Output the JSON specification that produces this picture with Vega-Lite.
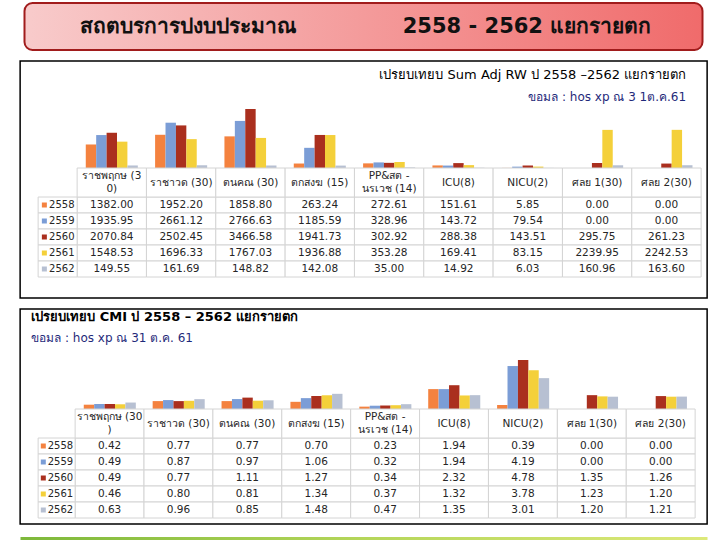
{
"$schema": "https://vega.github.io/schema/vega-lite/v6.json",
"background": "white",
"padding": {"left": 19, "top": 2, "right": 0, "bottom": 0},
"spacing": 9,
"center": true,
"config": {"view": {"stroke": null}, "font": "DejaVu Sans", "text": {"font": "DejaVu Sans"}},
"datasets": {
"rw": [
{"cat":"ราชพฤกษ (30)","year":"2558","v":1382.00},{"cat":"ราชาวด (30)","year":"2558","v":1952.20},{"cat":"ตนคณ (30)","year":"2558","v":1858.80},{"cat":"ตกสงฆ (15)","year":"2558","v":263.24},{"cat":"PP&สต-นรเวช (14)","year":"2558","v":272.61},{"cat":"ICU(8)","year":"2558","v":151.61},{"cat":"NICU(2)","year":"2558","v":5.85},{"cat":"ศลย 1(30)","year":"2558","v":0.00},{"cat":"ศลย 2(30)","year":"2558","v":0.00},
{"cat":"ราชพฤกษ (30)","year":"2559","v":1935.95},{"cat":"ราชาวด (30)","year":"2559","v":2661.12},{"cat":"ตนคณ (30)","year":"2559","v":2766.63},{"cat":"ตกสงฆ (15)","year":"2559","v":1185.59},{"cat":"PP&สต-นรเวช (14)","year":"2559","v":328.96},{"cat":"ICU(8)","year":"2559","v":143.72},{"cat":"NICU(2)","year":"2559","v":79.54},{"cat":"ศลย 1(30)","year":"2559","v":0.00},{"cat":"ศลย 2(30)","year":"2559","v":0.00},
{"cat":"ราชพฤกษ (30)","year":"2560","v":2070.84},{"cat":"ราชาวด (30)","year":"2560","v":2502.45},{"cat":"ตนคณ (30)","year":"2560","v":3466.58},{"cat":"ตกสงฆ (15)","year":"2560","v":1941.73},{"cat":"PP&สต-นรเวช (14)","year":"2560","v":302.92},{"cat":"ICU(8)","year":"2560","v":288.38},{"cat":"NICU(2)","year":"2560","v":143.51},{"cat":"ศลย 1(30)","year":"2560","v":295.75},{"cat":"ศลย 2(30)","year":"2560","v":261.23},
{"cat":"ราชพฤกษ (30)","year":"2561","v":1548.53},{"cat":"ราชาวด (30)","year":"2561","v":1696.33},{"cat":"ตนคณ (30)","year":"2561","v":1767.03},{"cat":"ตกสงฆ (15)","year":"2561","v":1936.88},{"cat":"PP&สต-นรเวช (14)","year":"2561","v":353.28},{"cat":"ICU(8)","year":"2561","v":169.41},{"cat":"NICU(2)","year":"2561","v":83.15},{"cat":"ศลย 1(30)","year":"2561","v":2239.95},{"cat":"ศลย 2(30)","year":"2561","v":2242.53},
{"cat":"ราชพฤกษ (30)","year":"2562","v":149.55},{"cat":"ราชาวด (30)","year":"2562","v":161.69},{"cat":"ตนคณ (30)","year":"2562","v":148.82},{"cat":"ตกสงฆ (15)","year":"2562","v":142.08},{"cat":"PP&สต-นรเวช (14)","year":"2562","v":35.00},{"cat":"ICU(8)","year":"2562","v":14.92},{"cat":"NICU(2)","year":"2562","v":6.03},{"cat":"ศลย 1(30)","year":"2562","v":160.96},{"cat":"ศลย 2(30)","year":"2562","v":163.60}
],
"cmi": [
{"cat":"ราชพฤกษ (30)","year":"2558","v":0.42},{"cat":"ราชาวด (30)","year":"2558","v":0.77},{"cat":"ตนคณ (30)","year":"2558","v":0.77},{"cat":"ตกสงฆ (15)","year":"2558","v":0.70},{"cat":"PP&สต-นรเวช (14)","year":"2558","v":0.23},{"cat":"ICU(8)","year":"2558","v":1.94},{"cat":"NICU(2)","year":"2558","v":0.39},{"cat":"ศลย 1(30)","year":"2558","v":0.00},{"cat":"ศลย 2(30)","year":"2558","v":0.00},
{"cat":"ราชพฤกษ (30)","year":"2559","v":0.49},{"cat":"ราชาวด (30)","year":"2559","v":0.87},{"cat":"ตนคณ (30)","year":"2559","v":0.97},{"cat":"ตกสงฆ (15)","year":"2559","v":1.06},{"cat":"PP&สต-นรเวช (14)","year":"2559","v":0.32},{"cat":"ICU(8)","year":"2559","v":1.94},{"cat":"NICU(2)","year":"2559","v":4.19},{"cat":"ศลย 1(30)","year":"2559","v":0.00},{"cat":"ศลย 2(30)","year":"2559","v":0.00},
{"cat":"ราชพฤกษ (30)","year":"2560","v":0.49},{"cat":"ราชาวด (30)","year":"2560","v":0.77},{"cat":"ตนคณ (30)","year":"2560","v":1.11},{"cat":"ตกสงฆ (15)","year":"2560","v":1.27},{"cat":"PP&สต-นรเวช (14)","year":"2560","v":0.34},{"cat":"ICU(8)","year":"2560","v":2.32},{"cat":"NICU(2)","year":"2560","v":4.78},{"cat":"ศลย 1(30)","year":"2560","v":1.35},{"cat":"ศลย 2(30)","year":"2560","v":1.26},
{"cat":"ราชพฤกษ (30)","year":"2561","v":0.46},{"cat":"ราชาวด (30)","year":"2561","v":0.80},{"cat":"ตนคณ (30)","year":"2561","v":0.81},{"cat":"ตกสงฆ (15)","year":"2561","v":1.34},{"cat":"PP&สต-นรเวช (14)","year":"2561","v":0.37},{"cat":"ICU(8)","year":"2561","v":1.32},{"cat":"NICU(2)","year":"2561","v":3.78},{"cat":"ศลย 1(30)","year":"2561","v":1.23},{"cat":"ศลย 2(30)","year":"2561","v":1.20},
{"cat":"ราชพฤกษ (30)","year":"2562","v":0.63},{"cat":"ราชาวด (30)","year":"2562","v":0.96},{"cat":"ตนคณ (30)","year":"2562","v":0.85},{"cat":"ตกสงฆ (15)","year":"2562","v":1.48},{"cat":"PP&สต-นรเวช (14)","year":"2562","v":0.47},{"cat":"ICU(8)","year":"2562","v":1.35},{"cat":"NICU(2)","year":"2562","v":3.01},{"cat":"ศลย 1(30)","year":"2562","v":1.20},{"cat":"ศลย 2(30)","year":"2562","v":1.21}
],
"hdr_rw": [
{"cat":"ราชพฤกษ (30)","l1":"ราชพฤกษ (3","l2":"0)"},{"cat":"ราชาวด (30)","l1":"ราชาวด (30)","l2":""},{"cat":"ตนคณ (30)","l1":"ตนคณ    (30)","l2":""},{"cat":"ตกสงฆ (15)","l1":"ตกสงฆ    (15)","l2":""},{"cat":"PP&สต-นรเวช (14)","l1":"PP&สต   -","l2":"นรเวช (14)"},{"cat":"ICU(8)","l1":"ICU(8)","l2":""},{"cat":"NICU(2)","l1":"NICU(2)","l2":""},{"cat":"ศลย 1(30)","l1":"ศลย   1(30)","l2":""},{"cat":"ศลย 2(30)","l1":"ศลย   2(30)","l2":""}
],
"hdr_cmi": [
{"cat":"ราชพฤกษ (30)","l1":"ราชพฤกษ (30","l2":")"},{"cat":"ราชาวด (30)","l1":"ราชาวด (30)","l2":""},{"cat":"ตนคณ (30)","l1":"ตนคณ    (30)","l2":""},{"cat":"ตกสงฆ (15)","l1":"ตกสงฆ    (15)","l2":""},{"cat":"PP&สต-นรเวช (14)","l1":"PP&สต   -","l2":"นรเวช (14)"},{"cat":"ICU(8)","l1":"ICU(8)","l2":""},{"cat":"NICU(2)","l1":"NICU(2)","l2":""},{"cat":"ศลย 1(30)","l1":"ศลย   1(30)","l2":""},{"cat":"ศลย 2(30)","l1":"ศลย   2(30)","l2":""}
],
"years": [{"year":"2558"},{"year":"2559"},{"year":"2560"},{"year":"2561"},{"year":"2562"}]
},
"vconcat": [
{
"width": 678, "height": 47,
"view": {"fill": {"gradient": "linear", "x1": 0, "y1": 0, "x2": 1, "y2": 0, "stops": [{"offset": 0, "color": "#F8CBCB"}, {"offset": 1, "color": "#F06B6B"}]}, "stroke": "#A11C1C", "strokeWidth": 2, "cornerRadius": 8},
"data": {"values": [{"part": "สถตบรการปงบประมาณ"}, {"part": "2558 - 2562 แยกรายตก"}]},
"mark": {"type": "text", "fontSize": 21, "fontWeight": "bold", "color": "#111111", "dx": -6},
"encoding": {
"x": {"field": "part", "type": "nominal", "sort": null, "axis": null},
"text": {"field": "part"}
}
},
{
"width": 687, "height": 237,
"view": {"stroke": "#000000", "strokeWidth": 1.5},
"title": {"text": "เปรยบเทยบ   Sum Adj RW ป  2558 –2562 แยกรายตก", "subtitle": "ขอมล   : hos xp ณ 3 1ต.ค.61", "anchor": "end", "frame": "group", "orient": "top", "offset": -42, "dx": -21, "fontSize": 13, "fontWeight": "normal", "color": "#000000", "subtitleFontSize": 12, "subtitleColor": "#1F2A7A", "subtitlePadding": 10, "font": "DejaVu Sans", "subtitleFont": "DejaVu Sans"},
"resolve": {"scale": {"x": "independent", "y": "independent", "color": "independent"}},
"layer": [
{"data": {"name": "rw"}, "mark": {"type": "bar"},
"encoding": {
"x": {"field": "cat", "type": "nominal", "scale": {"type": "band", "domain": ["ราชพฤกษ (30)","ราชาวด (30)","ตนคณ (30)","ตกสงฆ (15)","PP&สต-นรเวช (14)","ICU(8)","NICU(2)","ศลย 1(30)","ศลย 2(30)"], "paddingInner": 0, "paddingOuter": 0, "range": [57, 681]}, "axis": null},
"xOffset": {"field": "year", "type": "nominal", "scale": {"domain": ["2558","2559","2560","2561","2562"], "paddingInner": 0, "paddingOuter": 0.83}},
"y": {"field": "v", "type": "quantitative", "scale": {"domain": [-7638, 6287], "nice": false}, "axis": null},
"y2": {"datum": 0},
"color": {"field": "year", "type": "nominal", "scale": {"domain": ["2558","2559","2560","2561","2562"], "range": ["#F4823F","#7B9DD6","#AA2F1E","#F4D03A","#B7C0D2"]}, "legend": null}
}},
{"data": {"name": "rw"}, "mark": {"type": "rect", "fill": "white", "stroke": "#D4D4D4", "strokeWidth": 1},
"encoding": {
"x": {"field": "cat", "type": "nominal", "scale": {"type": "band", "domain": ["ราชพฤกษ (30)","ราชาวด (30)","ตนคณ (30)","ตกสงฆ (15)","PP&สต-นรเวช (14)","ICU(8)","NICU(2)","ศลย 1(30)","ศลย 2(30)"], "paddingInner": 0, "paddingOuter": 0, "range": [57, 681]}, "axis": null},
"y": {"field": "year", "type": "nominal", "scale": {"type": "band", "domain": ["2558","2559","2560","2561","2562"], "paddingInner": 0, "paddingOuter": 0, "range": [136, 216]}, "axis": null}
}},
{"data": {"name": "rw"}, "mark": {"type": "text", "fontSize": 10.5, "color": "#262626", "baseline": "middle"},
"encoding": {
"x": {"field": "cat", "type": "nominal", "scale": {"type": "band", "domain": ["ราชพฤกษ (30)","ราชาวด (30)","ตนคณ (30)","ตกสงฆ (15)","PP&สต-นรเวช (14)","ICU(8)","NICU(2)","ศลย 1(30)","ศลย 2(30)"], "paddingInner": 0, "paddingOuter": 0, "range": [57, 681]}, "axis": null},
"y": {"field": "year", "type": "nominal", "scale": {"type": "band", "domain": ["2558","2559","2560","2561","2562"], "paddingInner": 0, "paddingOuter": 0, "range": [136, 216]}, "axis": null},
"text": {"field": "v", "type": "quantitative", "format": ".2f"}
}},
{"data": {"name": "hdr_rw"}, "mark": {"type": "rect", "fill": "white", "stroke": "#D4D4D4", "strokeWidth": 1},
"encoding": {
"x": {"field": "cat", "type": "nominal", "scale": {"type": "band", "domain": ["ราชพฤกษ (30)","ราชาวด (30)","ตนคณ (30)","ตกสงฆ (15)","PP&สต-นรเวช (14)","ICU(8)","NICU(2)","ศลย 1(30)","ศลย 2(30)"], "paddingInner": 0, "paddingOuter": 0, "range": [57, 681]}, "axis": null},
"y": {"datum": "h", "type": "nominal", "scale": {"type": "band", "domain": ["h"], "paddingInner": 0, "paddingOuter": 0, "range": [107, 136]}, "axis": null}
}},
{"data": {"name": "hdr_rw"}, "transform": [{"filter": "datum.l2 === ''"}], "mark": {"type": "text", "fontSize": 10.5, "color": "#262626", "baseline": "middle"},
"encoding": {
"x": {"field": "cat", "type": "nominal", "scale": {"type": "band", "domain": ["ราชพฤกษ (30)","ราชาวด (30)","ตนคณ (30)","ตกสงฆ (15)","PP&สต-นรเวช (14)","ICU(8)","NICU(2)","ศลย 1(30)","ศลย 2(30)"], "paddingInner": 0, "paddingOuter": 0, "range": [57, 681]}, "axis": null},
"y": {"datum": "h", "type": "nominal", "scale": {"type": "band", "domain": ["h"], "paddingInner": 0, "paddingOuter": 0, "range": [107, 136]}, "axis": null},
"text": {"field": "l1"}
}},
{"data": {"name": "hdr_rw"}, "transform": [{"filter": "datum.l2 !== ''"}], "mark": {"type": "text", "fontSize": 10.5, "color": "#262626", "baseline": "middle"},
"encoding": {
"x": {"field": "cat", "type": "nominal", "scale": {"type": "band", "domain": ["ราชพฤกษ (30)","ราชาวด (30)","ตนคณ (30)","ตกสงฆ (15)","PP&สต-นรเวช (14)","ICU(8)","NICU(2)","ศลย 1(30)","ศลย 2(30)"], "paddingInner": 0, "paddingOuter": 0, "range": [57, 681]}, "axis": null},
"y": {"datum": "h", "type": "nominal", "bandPosition": 0.28, "scale": {"type": "band", "domain": ["h"], "paddingInner": 0, "paddingOuter": 0, "range": [107, 136]}, "axis": null},
"text": {"field": "l1"}
}},
{"data": {"name": "hdr_rw"}, "transform": [{"filter": "datum.l2 !== ''"}], "mark": {"type": "text", "fontSize": 10.5, "color": "#262626", "baseline": "middle"},
"encoding": {
"x": {"field": "cat", "type": "nominal", "scale": {"type": "band", "domain": ["ราชพฤกษ (30)","ราชาวด (30)","ตนคณ (30)","ตกสงฆ (15)","PP&สต-นรเวช (14)","ICU(8)","NICU(2)","ศลย 1(30)","ศลย 2(30)"], "paddingInner": 0, "paddingOuter": 0, "range": [57, 681]}, "axis": null},
"y": {"datum": "h", "type": "nominal", "bandPosition": 0.74, "scale": {"type": "band", "domain": ["h"], "paddingInner": 0, "paddingOuter": 0, "range": [107, 136]}, "axis": null},
"text": {"field": "l2"}
}},
{"data": {"name": "years"}, "mark": {"type": "rect", "fill": "white", "stroke": "#D4D4D4", "strokeWidth": 1},
"encoding": {
"x": {"datum": "leg", "type": "nominal", "scale": {"type": "band", "domain": ["leg"], "paddingInner": 0, "paddingOuter": 0, "range": [18, 57]}, "axis": null},
"y": {"field": "year", "type": "nominal", "scale": {"type": "band", "domain": ["2558","2559","2560","2561","2562"], "paddingInner": 0, "paddingOuter": 0, "range": [136, 216]}, "axis": null}
}},
{"data": {"name": "years"}, "mark": {"type": "square", "size": 25, "opacity": 1},
"encoding": {
"x": {"datum": "leg", "type": "nominal", "bandPosition": 0.16, "scale": {"type": "band", "domain": ["leg"], "paddingInner": 0, "paddingOuter": 0, "range": [18, 57]}, "axis": null},
"y": {"field": "year", "type": "nominal", "scale": {"type": "band", "domain": ["2558","2559","2560","2561","2562"], "paddingInner": 0, "paddingOuter": 0, "range": [136, 216]}, "axis": null},
"color": {"field": "year", "type": "nominal", "scale": {"domain": ["2558","2559","2560","2561","2562"], "range": ["#F4823F","#7B9DD6","#AA2F1E","#F4D03A","#B7C0D2"]}, "legend": null}
}},
{"data": {"name": "years"}, "mark": {"type": "text", "fontSize": 10, "color": "#262626", "align": "left", "baseline": "middle"},
"encoding": {
"x": {"datum": "leg", "type": "nominal", "bandPosition": 0.28, "scale": {"type": "band", "domain": ["leg"], "paddingInner": 0, "paddingOuter": 0, "range": [18, 57]}, "axis": null},
"y": {"field": "year", "type": "nominal", "scale": {"type": "band", "domain": ["2558","2559","2560","2561","2562"], "paddingInner": 0, "paddingOuter": 0, "range": [136, 216]}, "axis": null},
"text": {"field": "year"}
}}
]
},
{
"width": 687, "height": 215,
"view": {"stroke": "#000000", "strokeWidth": 1.5},
"title": {"text": "เปรยบเทยบ    CMI ป   2558 – 2562 แยกรายตก", "subtitle": "ขอมล   : hos xp ณ 31 ต.ค. 61", "anchor": "start", "frame": "group", "orient": "top", "offset": -35, "dx": 11, "fontSize": 13, "fontWeight": "bold", "color": "#000000", "subtitleFontSize": 12, "subtitleColor": "#1F2A7A", "subtitlePadding": 9, "font": "DejaVu Sans", "subtitleFont": "DejaVu Sans"},
"resolve": {"scale": {"x": "independent", "y": "independent", "color": "independent"}},
"layer": [
{"data": {"name": "cmi"}, "mark": {"type": "bar"},
"encoding": {
"x": {"field": "cat", "type": "nominal", "scale": {"type": "band", "domain": ["ราชพฤกษ (30)","ราชาวด (30)","ตนคณ (30)","ตกสงฆ (15)","PP&สต-นรเวช (14)","ICU(8)","NICU(2)","ศลย 1(30)","ศลย 2(30)"], "paddingInner": 0, "paddingOuter": 0, "range": [55, 675]}, "axis": null},
"xOffset": {"field": "year", "type": "nominal", "scale": {"domain": ["2558","2559","2560","2561","2562"], "paddingInner": 0, "paddingOuter": 0.83}},
"y": {"field": "v", "type": "quantitative", "scale": {"domain": [-11.22, 9.755], "nice": false}, "axis": null},
"y2": {"datum": 0},
"color": {"field": "year", "type": "nominal", "scale": {"domain": ["2558","2559","2560","2561","2562"], "range": ["#F4823F","#7B9DD6","#AA2F1E","#F4D03A","#B7C0D2"]}, "legend": null}
}},
{"data": {"name": "cmi"}, "mark": {"type": "rect", "fill": "white", "stroke": "#D4D4D4", "strokeWidth": 1},
"encoding": {
"x": {"field": "cat", "type": "nominal", "scale": {"type": "band", "domain": ["ราชพฤกษ (30)","ราชาวด (30)","ตนคณ (30)","ตกสงฆ (15)","PP&สต-นรเวช (14)","ICU(8)","NICU(2)","ศลย 1(30)","ศลย 2(30)"], "paddingInner": 0, "paddingOuter": 0, "range": [55, 675]}, "axis": null},
"y": {"field": "year", "type": "nominal", "scale": {"type": "band", "domain": ["2558","2559","2560","2561","2562"], "paddingInner": 0, "paddingOuter": 0, "range": [129, 209]}, "axis": null}
}},
{"data": {"name": "cmi"}, "mark": {"type": "text", "fontSize": 10.5, "color": "#262626", "baseline": "middle"},
"encoding": {
"x": {"field": "cat", "type": "nominal", "scale": {"type": "band", "domain": ["ราชพฤกษ (30)","ราชาวด (30)","ตนคณ (30)","ตกสงฆ (15)","PP&สต-นรเวช (14)","ICU(8)","NICU(2)","ศลย 1(30)","ศลย 2(30)"], "paddingInner": 0, "paddingOuter": 0, "range": [55, 675]}, "axis": null},
"y": {"field": "year", "type": "nominal", "scale": {"type": "band", "domain": ["2558","2559","2560","2561","2562"], "paddingInner": 0, "paddingOuter": 0, "range": [129, 209]}, "axis": null},
"text": {"field": "v", "type": "quantitative", "format": ".2f"}
}},
{"data": {"name": "hdr_cmi"}, "mark": {"type": "rect", "fill": "white", "stroke": "#D4D4D4", "strokeWidth": 1},
"encoding": {
"x": {"field": "cat", "type": "nominal", "scale": {"type": "band", "domain": ["ราชพฤกษ (30)","ราชาวด (30)","ตนคณ (30)","ตกสงฆ (15)","PP&สต-นรเวช (14)","ICU(8)","NICU(2)","ศลย 1(30)","ศลย 2(30)"], "paddingInner": 0, "paddingOuter": 0, "range": [55, 675]}, "axis": null},
"y": {"datum": "h", "type": "nominal", "scale": {"type": "band", "domain": ["h"], "paddingInner": 0, "paddingOuter": 0, "range": [100, 129]}, "axis": null}
}},
{"data": {"name": "hdr_cmi"}, "transform": [{"filter": "datum.l2 === ''"}], "mark": {"type": "text", "fontSize": 10.5, "color": "#262626", "baseline": "middle"},
"encoding": {
"x": {"field": "cat", "type": "nominal", "scale": {"type": "band", "domain": ["ราชพฤกษ (30)","ราชาวด (30)","ตนคณ (30)","ตกสงฆ (15)","PP&สต-นรเวช (14)","ICU(8)","NICU(2)","ศลย 1(30)","ศลย 2(30)"], "paddingInner": 0, "paddingOuter": 0, "range": [55, 675]}, "axis": null},
"y": {"datum": "h", "type": "nominal", "scale": {"type": "band", "domain": ["h"], "paddingInner": 0, "paddingOuter": 0, "range": [100, 129]}, "axis": null},
"text": {"field": "l1"}
}},
{"data": {"name": "hdr_cmi"}, "transform": [{"filter": "datum.l2 !== ''"}], "mark": {"type": "text", "fontSize": 10.5, "color": "#262626", "baseline": "middle"},
"encoding": {
"x": {"field": "cat", "type": "nominal", "scale": {"type": "band", "domain": ["ราชพฤกษ (30)","ราชาวด (30)","ตนคณ (30)","ตกสงฆ (15)","PP&สต-นรเวช (14)","ICU(8)","NICU(2)","ศลย 1(30)","ศลย 2(30)"], "paddingInner": 0, "paddingOuter": 0, "range": [55, 675]}, "axis": null},
"y": {"datum": "h", "type": "nominal", "bandPosition": 0.28, "scale": {"type": "band", "domain": ["h"], "paddingInner": 0, "paddingOuter": 0, "range": [100, 129]}, "axis": null},
"text": {"field": "l1"}
}},
{"data": {"name": "hdr_cmi"}, "transform": [{"filter": "datum.l2 !== ''"}], "mark": {"type": "text", "fontSize": 10.5, "color": "#262626", "baseline": "middle"},
"encoding": {
"x": {"field": "cat", "type": "nominal", "scale": {"type": "band", "domain": ["ราชพฤกษ (30)","ราชาวด (30)","ตนคณ (30)","ตกสงฆ (15)","PP&สต-นรเวช (14)","ICU(8)","NICU(2)","ศลย 1(30)","ศลย 2(30)"], "paddingInner": 0, "paddingOuter": 0, "range": [55, 675]}, "axis": null},
"y": {"datum": "h", "type": "nominal", "bandPosition": 0.74, "scale": {"type": "band", "domain": ["h"], "paddingInner": 0, "paddingOuter": 0, "range": [100, 129]}, "axis": null},
"text": {"field": "l2"}
}},
{"data": {"name": "years"}, "mark": {"type": "rect", "fill": "white", "stroke": "#D4D4D4", "strokeWidth": 1},
"encoding": {
"x": {"datum": "leg", "type": "nominal", "scale": {"type": "band", "domain": ["leg"], "paddingInner": 0, "paddingOuter": 0, "range": [18, 55]}, "axis": null},
"y": {"field": "year", "type": "nominal", "scale": {"type": "band", "domain": ["2558","2559","2560","2561","2562"], "paddingInner": 0, "paddingOuter": 0, "range": [129, 209]}, "axis": null}
}},
{"data": {"name": "years"}, "mark": {"type": "square", "size": 25, "opacity": 1},
"encoding": {
"x": {"datum": "leg", "type": "nominal", "bandPosition": 0.14, "scale": {"type": "band", "domain": ["leg"], "paddingInner": 0, "paddingOuter": 0, "range": [18, 55]}, "axis": null},
"y": {"field": "year", "type": "nominal", "scale": {"type": "band", "domain": ["2558","2559","2560","2561","2562"], "paddingInner": 0, "paddingOuter": 0, "range": [129, 209]}, "axis": null},
"color": {"field": "year", "type": "nominal", "scale": {"domain": ["2558","2559","2560","2561","2562"], "range": ["#F4823F","#7B9DD6","#AA2F1E","#F4D03A","#B7C0D2"]}, "legend": null}
}},
{"data": {"name": "years"}, "mark": {"type": "text", "fontSize": 10, "color": "#262626", "align": "left", "baseline": "middle"},
"encoding": {
"x": {"datum": "leg", "type": "nominal", "bandPosition": 0.26, "scale": {"type": "band", "domain": ["leg"], "paddingInner": 0, "paddingOuter": 0, "range": [18, 55]}, "axis": null},
"y": {"field": "year", "type": "nominal", "scale": {"type": "band", "domain": ["2558","2559","2560","2561","2562"], "paddingInner": 0, "paddingOuter": 0, "range": [129, 209]}, "axis": null},
"text": {"field": "year"}
}}
]
},
{
"width": 687, "height": 7,
"view": {"fill": {"gradient": "linear", "x1": 0, "y1": 0, "x2": 1, "y2": 0, "stops": [{"offset": 0, "color": "#7DB83A"}, {"offset": 0.5, "color": "#B5D65A"}, {"offset": 1, "color": "#DDE97A"}]}, "stroke": null},
"data": {"values": [{"part": ""}]},
"mark": {"type": "text"},
"encoding": {"text": {"field": "part"}}
}
]
}
